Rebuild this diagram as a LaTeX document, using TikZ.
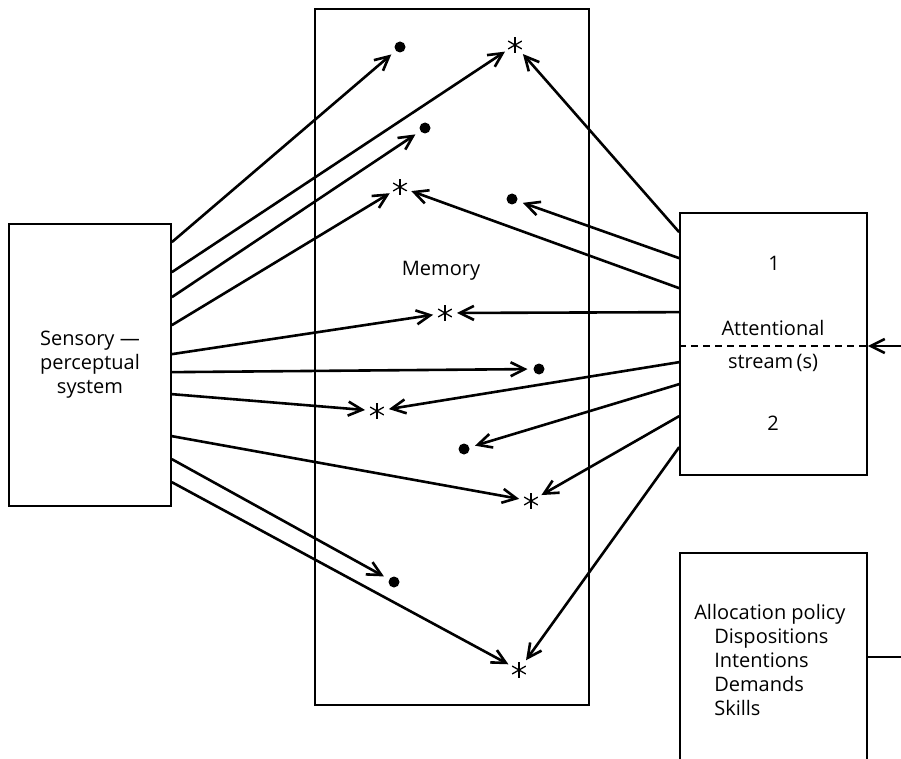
\documentclass[tikz,border=0pt]{standalone}
\usepackage{fontspec}
\setmainfont{Open Sans}
\usetikzlibrary{arrows.meta}

\begin{document}
\begin{tikzpicture}[x=1pt,y=-1pt,line width=2.6pt,
  box/.style={draw,line width=1.7pt,inner sep=0pt,align=center,font=\fontsize{20}{24}\selectfont},
  lbl/.style={font=\fontsize{20}{24}\selectfont},
  arr/.style={-{Straight Barb[length=14pt,width=14pt]}},
  memdot/.style={circle,fill,inner sep=0pt,minimum size=11pt,outer sep=6pt},
  memstar/.style={circle,inner sep=0pt,minimum size=16pt,outer sep=4pt,
    path picture={\draw[line width=1.3pt] (path picture bounding box.center) ++(90:8pt) -- ++(270:16pt);
      \draw[line width=1.3pt] (path picture bounding box.center) ++(30:8pt) -- ++(210:16pt);
      \draw[line width=1.3pt] (path picture bounding box.center) ++(150:8pt) -- ++(330:16pt);}}]

\useasboundingbox (0,0) rectangle (901,759);
\clip (0,0) rectangle (901,759);

% boxes
\node[box,minimum width=162pt,minimum height=282pt] (Sensory) at (90,365) {Sensory ---\\perceptual\\system};
\node[box,minimum width=274pt,minimum height=696pt] (Memory) at (452,357) {};
\node[lbl] (MemoryLabel) at (441,271) {Memory};

\node[box,minimum width=187pt,minimum height=262pt] (Attention) at (773.5,344) {};
\node[lbl] (StreamOne) at (774,263) {1};
\node[lbl] (AttentionA) at (773,328) {Attentional};
\node[lbl] (AttentionB) at (773,363) {stream\,(s)};
\node[lbl] (StreamTwo) at (773,423) {2};

\node[box,minimum width=187pt,minimum height=240pt] (Allocation) at (773.5,673) {};
\node[lbl,anchor=north west,align=left,inner sep=0pt] (AllocationText) at (693,603)
{Allocation policy\\\hspace*{20pt}Dispositions\\\hspace*{20pt}Intentions\\\hspace*{20pt}Demands\\\hspace*{20pt}Skills};

% attentional streams split
\draw[dashed,line width=1.4pt,dash pattern=on 7pt off 5pt] ([yshift=-2pt]Attention.west) -- ([yshift=-2pt]Attention.east);

\coordinate (FeedIn) at (901,346);
\coordinate (PolicyOut) at (901,657);
\draw[arr] (FeedIn) -- ([yshift=-2pt]Attention.east);
\draw ([yshift=16pt]Allocation.east) -- (PolicyOut);

% memory contents
\node[memdot] (D1) at (400,47) {};
\node[memstar] (S1) at (515,45) {};
\node[memdot] (D2) at (425,128) {};
\node[memstar] (S2) at (400,187) {};
\node[memdot] (D3) at (512,199) {};
\node[memstar] (S3) at (445,313) {};
\node[memdot] (D4) at (539,369) {};
\node[memstar] (S4) at (377,411) {};
\node[memdot] (D5) at (464,449) {};
\node[memstar] (S5) at (531,501) {};
\node[memdot] (D6) at (394,582) {};
\node[memstar] (S6) at (519,670) {};

% from sensory system
\draw[arr] ([yshift=-19pt]Sensory.north east) -- (D1);
\draw[arr] ([yshift=-49pt]Sensory.north east) -- (S1);
\draw[arr] ([yshift=-74pt]Sensory.north east) -- (D2);
\draw[arr] ([yshift=-102pt]Sensory.north east) -- (S2);
\draw[arr] ([yshift=-131pt]Sensory.north east) -- (S3);
\draw[arr] ([yshift=-149pt]Sensory.north east) -- (D4);
\draw[arr] ([yshift=-171pt]Sensory.north east) -- (S4);
\draw[arr] ([yshift=-213pt]Sensory.north east) -- (S5);
\draw[arr] ([yshift=-236pt]Sensory.north east) -- (D6);
\draw[arr] ([yshift=-259pt]Sensory.north east) -- (S6);

% from attentional stream(s)
\draw[arr] ([yshift=-20pt]Attention.north west) -- (S1);
\draw[arr] ([yshift=-46pt]Attention.north west) -- (D3);
\draw[arr] ([yshift=-76pt]Attention.north west) -- (S2);
\draw[arr] ([yshift=-100pt]Attention.north west) -- (S3);
\draw[arr] ([yshift=-150pt]Attention.north west) -- (S4);
\draw[arr] ([yshift=-172pt]Attention.north west) -- (D5);
\draw[arr] ([yshift=-204pt]Attention.north west) -- (S5);
\draw[arr] ([yshift=-235pt]Attention.north west) -- (S6);

\end{tikzpicture}
\end{document}
